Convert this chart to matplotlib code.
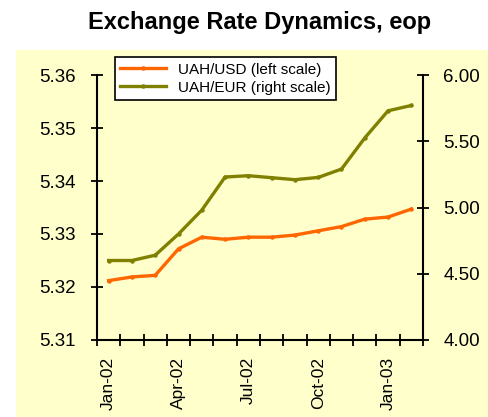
import matplotlib.pyplot as plt
from matplotlib.patches import Rectangle

months = ['Jan-02', 'Feb-02', 'Mar-02', 'Apr-02', 'May-02', 'Jun-02', 'Jul-02',
          'Aug-02', 'Sep-02', 'Oct-02', 'Nov-02', 'Dec-02', 'Jan-03', 'Feb-03']
uah_usd = [5.3212, 5.3219, 5.3222, 5.3272, 5.3294, 5.3290, 5.3294,
           5.3294, 5.3298, 5.3306, 5.3314, 5.3328, 5.3332, 5.3347]
uah_eur = [4.60, 4.60, 4.64, 4.80, 4.98, 5.23, 5.24,
           5.225, 5.21, 5.227, 5.29, 5.525, 5.73, 5.77]

plt.rcParams['font.family'] = ['Liberation Sans', 'DejaVu Sans']
bg = '#FFFFCC'
orange = '#FF6600'
olive = '#808000'

fig = plt.figure(figsize=(4.89, 4.17), dpi=100)
fig.patches.append(Rectangle((16 / 489, 0), 1, (417 - 50) / 417,
                             transform=fig.transFigure, facecolor=bg,
                             edgecolor='none', zorder=-10))

ax = fig.add_axes([97 / 489, 77 / 417, 326 / 489, 265 / 417])
ax.set_facecolor('none')
ax2 = ax.twinx()

x = list(range(len(months)))
l1, = ax.plot(x, uah_usd, color=orange, lw=2.4, marker='o', ms=2.2, label='UAH/USD (left scale)')
l2, = ax2.plot(x, uah_eur, color=olive, lw=2.4, marker='o', ms=2.2, label='UAH/EUR (right scale)')

ax.set_xlim(-0.5, len(months) - 0.5)
ax.set_ylim(5.31, 5.36)
ax.set_yticks([5.31, 5.32, 5.33, 5.34, 5.35, 5.36])
ax.set_yticklabels([f'{v:.2f}' for v in [5.31, 5.32, 5.33, 5.34, 5.35, 5.36]])
ax2.set_ylim(4.0, 6.0)
ax2.set_yticks([4.0, 4.5, 5.0, 5.5, 6.0])
ax2.set_yticklabels([f'{v:.2f}' for v in [4.0, 4.5, 5.0, 5.5, 6.0]])

ax.set_xticks(x[::3])
ax.set_xticklabels(months[::3], rotation=90)
ax.set_xticks([i - 0.5 for i in range(len(months) + 1)], minor=True)
ax.tick_params(axis='x', which='major', length=0, labelsize=12.5, pad=12)
ax.tick_params(axis='x', which='minor', length=9, width=1.3, direction='inout')
ax.tick_params(axis='y', direction='inout', length=9, width=1.3, labelsize=13.5, pad=11)
ax2.tick_params(axis='y', direction='inout', length=9, width=1.3, labelsize=13.5, pad=10)

for a in (ax, ax2):
    a.spines['top'].set_visible(False)
    for s in ('left', 'right', 'bottom'):
        a.spines[s].set_linewidth(1.5)
ax.spines['right'].set_visible(False)
ax2.spines['left'].set_visible(False)
ax2.spines['bottom'].set_visible(False)

fig.text(260 / 489, 0.945, 'Exchange Rate Dynamics, eop', ha='center', va='center',
         fontsize=17, fontweight='bold')

leg = ax2.legend(handles=[l1, l2], loc='upper left', bbox_to_anchor=(10 / 326, 1.095),
                 fontsize=11, frameon=True, fancybox=False, edgecolor='black',
                 framealpha=1, handlelength=3.0, borderpad=0.35, labelspacing=0.25)
leg.get_frame().set_linewidth(1.2)

fig.savefig('out.png', dpi=100)
